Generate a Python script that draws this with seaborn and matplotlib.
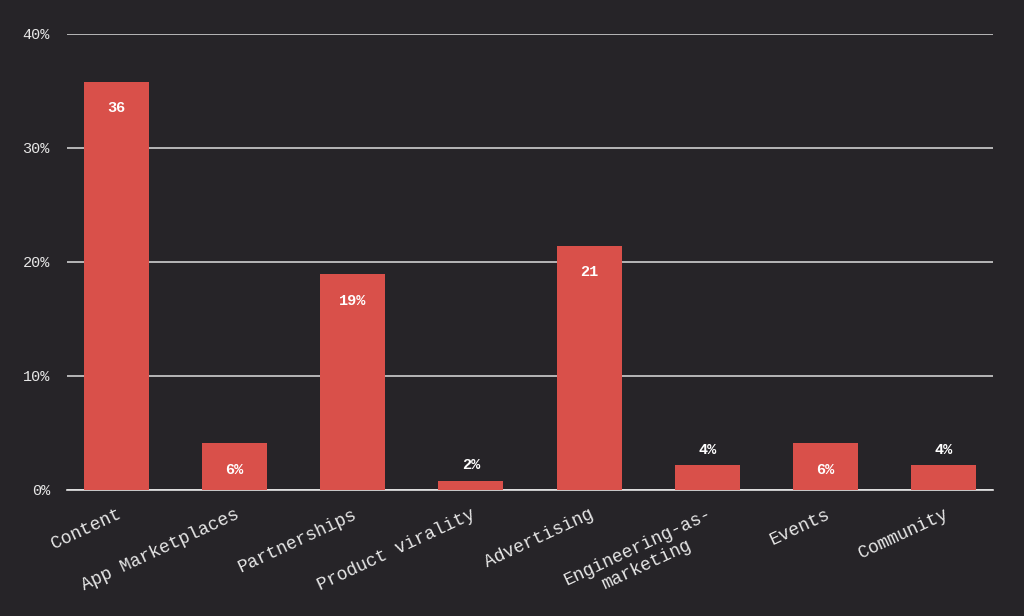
import matplotlib
matplotlib.use('Agg')
import matplotlib.pyplot as plt
import seaborn as sns
import pandas as pd

channels = ["Content", "App Marketplaces", "Partnerships", "Product virality",
            "Advertising", "Engineering-as-\nmarketing", "Events", "Community"]
shares = [35.8, 4.1, 18.9, 0.8, 21.4, 2.2, 4.1, 2.2]
labels = ["36", "6%", "19%", "2%", "21", "4%", "6%", "4%"]
inside = [True, True, True, False, True, False, True, False]

bg = "#262428"
fg = "#e6e6e6"
red = "#d9504a"

sns.set_style("dark")
plt.rcParams['font.family'] = ['Liberation Mono', 'DejaVu Sans Mono']

df = pd.DataFrame({"channel": channels, "share": shares})
fig, ax = plt.subplots(figsize=(10.24, 6.16), dpi=100)
fig.patch.set_facecolor(bg)
ax.set_facecolor(bg)
fig.subplots_adjust(left=0.065, right=0.97, top=0.945, bottom=0.205)

sns.barplot(data=df, x="channel", y="share", color=red, saturation=1, width=0.55,
            edgecolor="none", linewidth=0, ax=ax, zorder=3)

ax.set_xlim(-0.42, len(channels) - 0.58)
ax.set_ylim(0, 40)
ax.set_yticks([0, 10, 20, 30, 40])
ax.set_yticklabels([f"{v}%" for v in [0, 10, 20, 30, 40]], color=fg, fontsize=11)
ax.yaxis.grid(True, color="#cfcfcf", linewidth=1.2, zorder=0)
ax.xaxis.grid(False)
ax.tick_params(axis='y', length=0, pad=12)
ax.tick_params(axis='x', length=8, color=fg, width=1.2, colors=fg)
ax.set_xticks(range(len(channels)))
ax.set_xticklabels(channels, rotation=25, ha='right', rotation_mode='anchor',
                   multialignment='center', fontsize=13, color=fg)
for s in ["top", "right", "left"]:
    ax.spines[s].set_visible(False)
ax.spines["bottom"].set_color(fg)
ax.spines["bottom"].set_linewidth(1.2)
ax.set_xlabel("")
ax.set_ylabel("")

for i, (v, lab, ins) in enumerate(zip(shares, labels, inside)):
    if ins:
        ax.annotate(lab, (i, v), xytext=(0, -22), textcoords="offset points", ha='center',
                    color="white", fontweight='bold', fontsize=11, zorder=4)
    else:
        ax.annotate(lab, (i, v), xytext=(0, 8), textcoords="offset points", ha='center',
                    color="white", fontweight='bold', fontsize=11, zorder=4)

fig.savefig("out.png", facecolor=bg)
